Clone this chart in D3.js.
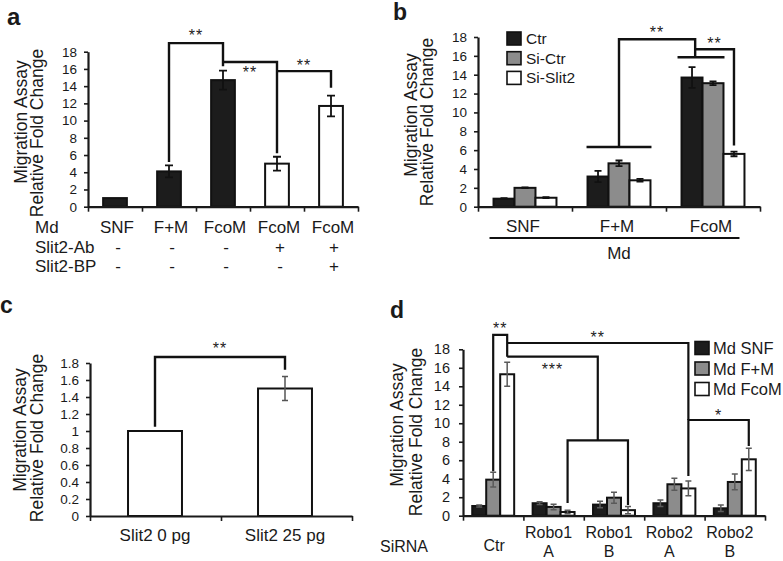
<!DOCTYPE html>
<html><head><meta charset="utf-8">
<script src="https://cdn.jsdelivr.net/npm/d3@7/dist/d3.min.js"></script>
<style>
html,body{margin:0;padding:0;background:#fff;}
svg{display:block;}
</style></head><body>
<svg id="chart" width="783" height="561"></svg>
<script>
// ---------------- DATA ----------------
// Panel a
const aCategories = ["SNF", "F+M", "FcoM", "FcoM", "FcoM"];
const aValues = [1.0, 4.1, 14.7, 5.0, 11.7];
const aErrors = [0, 0.7, 1.1, 0.8, 1.2];
const aTreated = [false, false, false, true, true];
const aSlit2Ab = ["-", "-", "-", "+", "+"];
const aSlit2BP = ["-", "-", "-", "-", "+"];
// Panel b
const bGroups = ["SNF", "F+M", "FcoM"];
const bSeries = ["Ctr", "Si-Ctr", "Si-Slit2"];
const bCtr = [0.85, 3.2, 13.7];
const bCtrErr = [0.05, 0.6, 1.1];
const bSiCtr = [2.0, 4.6, 13.1];
const bSiCtrErr = [0.04, 0.3, 0.2];
const bSiSlit2 = [0.95, 2.8, 5.6];
const bSiSlit2Err = [0.05, 0.15, 0.25];
// Panel c
const cCategories = ["Slit2 0 pg", "Slit2 25 pg"];
const cValues = [1.0, 1.5];
const cErrors = [0, 0.14];
// Panel d
const dGroups = ["Ctr", "Robo1 A", "Robo1 B", "Robo2 A", "Robo2 B"];
const dLabelLines = [["Ctr"], ["Robo1", "A"], ["Robo1", "B"], ["Robo2", "A"], ["Robo2", "B"]];
const dSeries = ["Md SNF", "Md F+M", "Md FcoM"];
const dSNF = [1.05, 1.35, 1.2, 1.35, 0.8];
const dSNFErr = [0.1, 0.15, 0.35, 0.35, 0.35];
const dFM = [3.9, 0.95, 1.95, 3.4, 3.65];
const dFMErr = [0.8, 0.3, 0.6, 0.65, 0.85];
const dFcoM = [15.3, 0.4, 0.6, 2.95, 6.1];
const dFcoMErr = [1.3, 0.2, 0.4, 0.8, 1.2];
// ticks
const ticks18 = [0, 2, 4, 6, 8, 10, 12, 14, 16, 18];
const ticksC = [0, 0.2, 0.4, 0.6, 0.8, 1, 1.2, 1.4, 1.6, 1.8];
const ticksCLabels = ["0", "0.2", "0.4", "0.6", "0.8", "1", "1.2", "1.4", "1.6", "1.8"];

// ---------------- STYLE ----------------
const FONT = '"Liberation Sans", Arial, Helvetica, sans-serif';
const INK = "#1a1a1a";
const BLACK = "#1c1c1c", GREY = "#8c8c8c", WHITE = "#ffffff";
const svg = d3.select("#chart").attr("font-family", FONT);

function yAxis(x0, y, ticks, labels, fs, pad) {
  const ax = d3.axisLeft(y).tickValues(ticks).tickFormat((d, i) => labels ? labels[i] : d)
    .tickSize(4).tickSizeOuter(0).tickPadding(pad);
  const g = svg.append("g").attr("transform", `translate(${x0},0)`).call(ax)
    .attr("font-family", FONT).attr("font-size", fs);
  g.select(".domain").attr("stroke", INK).attr("stroke-width", 2.2);
  g.selectAll(".tick line").attr("stroke", INK).attr("stroke-width", 1.6);
  g.selectAll(".tick text").attr("fill", INK);
}
function xAxis(x0, x1, n, yBase) {
  const s = d3.scaleLinear().domain([0, n]).range([x0, x1]);
  const ax = d3.axisBottom(s).tickValues(d3.range(n + 1)).tickFormat("").tickSize(5).tickSizeOuter(0);
  const g = svg.append("g").attr("transform", `translate(0,${yBase})`).call(ax);
  g.select(".domain").attr("stroke", INK).attr("stroke-width", 2.2);
  g.selectAll(".tick line").attr("stroke", INK).attr("stroke-width", 1.6);
}
function bar(x, w, y, v, fill) {
  svg.append("rect").attr("x", x).attr("y", y(v)).attr("width", w).attr("height", y(0) - y(v))
    .attr("fill", fill).attr("stroke", "#111").attr("stroke-width", 2);
}
function err(cx, y, v, e, color, sw, cap) {
  if (!e) return;
  svg.append("path")
    .attr("d", `M${cx},${y(v - e)}V${y(v + e)}M${cx - cap},${y(v + e)}H${cx + cap}M${cx - cap},${y(v - e)}H${cx + cap}`)
    .attr("fill", "none").attr("stroke", color).attr("stroke-width", sw);
}
const line = d3.line();
function bracket(pts, sw) {
  svg.append("path").attr("d", line(pts)).attr("fill", "none").attr("stroke", "#111")
    .attr("stroke-width", sw || 2.4).attr("stroke-linejoin", "miter");
}
function star(txt, x, yc, fs) {
  fs = fs || 16;
  svg.append("text").attr("x", x).attr("y", yc + 0.58 * fs).attr("text-anchor", "middle")
    .attr("font-size", fs).attr("fill", "#222").attr("letter-spacing", 1).text(txt);
}
function txt(t, x, y, fs, anchor, weight) {
  return svg.append("text").attr("x", x).attr("y", y).attr("font-size", fs)
    .attr("text-anchor", anchor || "middle").attr("font-weight", weight || "normal")
    .attr("fill", INK).text(t);
}
function yLabel(lines, fs) {
  lines.forEach(l => {
    svg.append("text").attr("transform", `translate(${l.x},${l.yc}) rotate(-90)`)
      .attr("text-anchor", "middle").attr("font-size", fs).attr("fill", INK).text(l.t);
  });
}
const YL = 17.5, CAT = 17, TK = 13.5;

// ================= PANEL A =================
{
  const ya = d3.scaleLinear().domain([0, 18]).range([206.7, 51.7]);
  const xa = d3.scaleBand().domain(d3.range(aCategories.length)).range([88, 358]);
  const bw = xa.bandwidth() * 0.44;
  const cx = i => xa(i) + xa.bandwidth() / 2;
  aValues.forEach((v, i) => {
    bar(cx(i) - bw / 2, bw, ya, v, aTreated[i] ? WHITE : BLACK);
    err(cx(i), ya, v, aErrors[i], "#111", 1.8, 4);
  });
  xAxis(88, 358, aCategories.length, ya(0));
  yAxis(88, ya, ticks18, null, TK, 7);
  yLabel([{ t: "Migration Assay", x: 26.5, yc: 122 }, { t: "Relative Fold Change", x: 42.5, yc: 133 }], YL);
  txt("a", 7, 25, 24, "start", "bold");
  // category rows
  txt("Md", 35, 233, CAT, "start");
  txt("Slit2-Ab", 35, 253, CAT, "start");
  txt("Slit2-BP", 35, 272, CAT, "start");
  aCategories.forEach((c, i) => {
    txt(c, cx(i) + 2, 233, CAT);
    txt(aSlit2Ab[i], cx(i) + 3, 253, CAT);
    txt(aSlit2BP[i], cx(i) + 3, 272, CAT);
  });
  // significance
  bracket([[cx(1), ya(5.2)], [cx(1), ya(19.0)], [cx(2), ya(19.0)], [cx(2), ya(16.3)]]);
  bracket([[cx(2), ya(16.8)], [cx(3), ya(16.8)], [cx(3), ya(6.2)]]);
  bracket([[cx(3), ya(15.75)], [cx(4), ya(15.75)], [cx(4), ya(13.8)]]);
  star("**", (cx(1) + cx(2)) / 2, ya(20.3));
  star("**", (cx(2) + cx(3)) / 2, ya(15.98));
  star("**", (cx(3) + cx(4)) / 2, ya(16.8));
}

// ================= PANEL B =================
{
  const yb = d3.scaleLinear().domain([0, 18]).range([206.7, 37]);
  const xb = d3.scaleBand().domain(bGroups).range([478, 760]);
  const xb1 = d3.scaleBand().domain(bSeries).range([0, xb.bandwidth()]).paddingOuter(0.74);
  const vals = [bCtr, bSiCtr, bSiSlit2], errs = [bCtrErr, bSiCtrErr, bSiSlit2Err];
  const fills = [BLACK, GREY, WHITE];
  const w = xb1.bandwidth();
  const cx = (g, s) => xb(g) + xb1(s) + w / 2;
  bSeries.forEach((s, si) => {
    bGroups.forEach((g, gi) => {
      bar(xb(g) + xb1(s), w, yb, vals[si][gi], fills[si]);
      err(cx(g, s), yb, vals[si][gi], errs[si][gi], "#111", 1.8, 3.5);
    });
  });
  xAxis(478, 760, bGroups.length, yb(0));
  yAxis(478, yb, ticks18, null, TK, 7);
  yLabel([{ t: "Migration Assay", x: 416.7, yc: 115 }, { t: "Relative Fold Change", x: 432.7, yc: 122 }], YL);
  txt("b", 393, 20, 23, "start", "bold");
  bGroups.forEach(g => txt(g, xb(g) + xb.bandwidth() / 2 - 2, 232, CAT));
  svg.append("line").attr("x1", xb("SNF") + xb1("Ctr") - 4).attr("x2", xb("FcoM") + xb1("Si-Slit2") + w - 5)
    .attr("y1", 238).attr("y2", 238).attr("stroke", "#111").attr("stroke-width", 2);
  txt("Md", xb("F+M") + xb.bandwidth() / 2, 259, CAT);
  // legend
  bSeries.forEach((s, i) => {
    const yc = 38.5 + i * 19.7;
    svg.append("rect").attr("x", 507).attr("y", yc - 6.5).attr("width", 14).attr("height", 13)
      .attr("fill", fills[i]).attr("stroke", "#111").attr("stroke-width", 1.6);
    txt(s, 526, yc + 5.5, 15.5, "start");
  });
  // significance
  const fmL = xb("F+M") + xb1("Ctr") - 1, fmR = xb("F+M") + xb1("Si-Slit2") + w + 1;
  bracket([[fmL, yb(6.33)], [fmR, yb(6.33)]]);
  const fcL = xb("FcoM") + xb1("Ctr") - 4, fcR = xb("FcoM") + xb1("Si-Ctr") + w + 1;
  bracket([[fcL, yb(15.85)], [fcR, yb(15.85)]]);
  const xL = xb("F+M") + xb.bandwidth() / 2;
  const xR = xb("FcoM") + xb1("Ctr") + w * 0.65;
  const xW = cx("FcoM", "Si-Slit2");
  bracket([[xL, yb(6.33)], [xL, yb(17.76)], [xR, yb(17.76)], [xR, yb(15.85)]]);
  bracket([[xR, yb(16.7)], [xW, yb(16.7)], [xW, yb(6.5)]]);
  star("**", (xL + xR) / 2, yb(18.93));
  star("**", (xR + xW) / 2, yb(17.76));
}

// ================= PANEL C =================
{
  const yc = d3.scaleLinear().domain([0, 1.8]).range([516, 363]);
  const xc = d3.scaleBand().domain(cCategories).range([90, 350]);
  const bw = xc.bandwidth() * 0.415;
  const cx = c => xc(c) + xc.bandwidth() / 2;
  cCategories.forEach((c, i) => {
    bar(cx(c) - bw / 2, bw, yc, cValues[i], WHITE);
    err(cx(c), yc, cValues[i], cErrors[i], "#555", 1.5, 3);
  });
  xAxis(90, 352, cCategories.length, yc(0));
  yAxis(90, yc, ticksC, ticksCLabels, TK, 7);
  yLabel([{ t: "Migration Assay", x: 26, yc: 430 }, { t: "Relative Fold Change", x: 42.7, yc: 438 }], YL);
  txt("c", 0, 313, 23, "start", "bold");
  cCategories.forEach(c => txt(c, cx(c), 541, CAT));
  const c0 = cx(cCategories[0]), c1 = cx(cCategories[1]);
  bracket([[c0, yc(1.05)], [c0, yc(1.87)], [c1, yc(1.87)], [c1, yc(1.72)]]);
  star("**", (c0 + c1) / 2, yc(2.01));
}

// ================= PANEL D =================
{
  const yd = d3.scaleLinear().domain([0, 18]).range([515.7, 349.3]);
  const xd = d3.scaleBand().domain(dGroups).range([463, 765]);
  const xd1 = d3.scaleBand().domain(dSeries).range([0, xd.bandwidth()]).paddingOuter(0.66);
  const vals = [dSNF, dFM, dFcoM], errs = [dSNFErr, dFMErr, dFcoMErr];
  const fills = [BLACK, GREY, WHITE];
  const w = xd1.bandwidth();
  const cx = (g, s) => xd(g) + xd1(s) + w / 2;
  dSeries.forEach((s, si) => {
    dGroups.forEach((g, gi) => {
      bar(xd(g) + xd1(s), w, yd, vals[si][gi], fills[si]);
    });
  });
  dSeries.forEach((s, si) => {
    dGroups.forEach((g, gi) => {
      err(cx(g, s), yd, vals[si][gi], errs[si][gi], "#5a5a5a", 1.5, 3);
    });
  });
  xAxis(463, 765, dGroups.length, yd(0));
  yAxis(463, yd, ticks18, null, 14.5, 9);
  yLabel([{ t: "Migration Assay", x: 403, yc: 425 }, { t: "Relative Fold Change", x: 421.5, yc: 432 }], YL);
  txt("d", 390, 318, 23, "start", "bold");
  txt("SiRNA", 428, 552, 16, "end");
  dLabelLines.forEach((ls, i) => {
    const x = xd(dGroups[i]) + xd.bandwidth() / 2 - (i === 0 ? -1 : 5);
    if (ls.length === 1) txt(ls[0], x, 551, 16);
    else { txt(ls[0], x, 538, 16); txt(ls[1], x, 557, 16); }
  });
  // legend
  dSeries.forEach((s, i) => {
    const y = 348 + i * 20.5;
    svg.append("rect").attr("x", 695).attr("y", y - 6.5).attr("width", 14).attr("height", 13)
      .attr("fill", fills[i]).attr("stroke", "#111").attr("stroke-width", 1.6);
    txt(s, 713, y + 6, 16.5, "start");
  });
  // significance
  const ctrG = cx("Ctr", "Md F+M"), ctrW = cx("Ctr", "Md FcoM");
  const r2a = cx("Robo2 A", "Md FcoM"), r2b = cx("Robo2 B", "Md FcoM");
  const r1a = cx("Robo1 A", "Md FcoM"), r1b = cx("Robo1 B", "Md FcoM");
  const xm = (r1a + r1b) / 2;
  bracket([[ctrG, yd(4.8)], [ctrG, yd(19.55)], [ctrW, yd(19.55)], [ctrW, yd(17.2)]], 2.2);
  bracket([[ctrW, yd(18.68)], [r2a, yd(18.68)], [r2a, yd(10.35)]], 2.2);
  bracket([[r2a, yd(4.3)], [r2a, yd(10.35)], [r2b, yd(10.35)], [r2b, yd(7.55)]], 2.2);
  bracket([[ctrW, yd(17.2)], [xm, yd(17.2)], [xm, yd(8.15)]], 2.2);
  bracket([[r1a, yd(1.38)], [r1a, yd(8.15)], [r1b, yd(8.15)], [r1b, yd(1.15)]], 2.2);
  star("**", (ctrG + ctrW) / 2, yd(20.7));
  star("**", (ctrW + r2a) / 2, yd(19.73));
  star("***", (ctrW + xm) / 2, yd(16.2));
  star("*", (r2a + r2b) / 2, yd(11.2));
}
</script>
</body></html>
